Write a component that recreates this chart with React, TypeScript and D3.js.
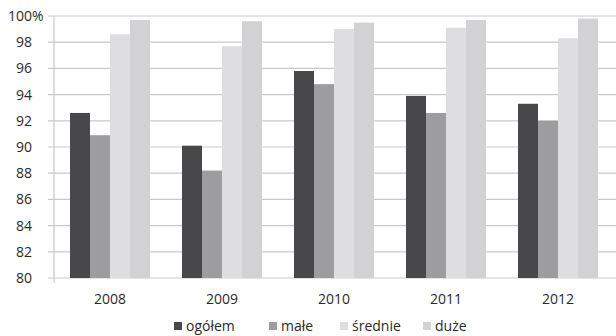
import React, { useRef, useEffect } from 'react';
import * as d3 from 'd3';

const years = ['2008', '2009', '2010', '2011', '2012'];
const seriesNames = ['ogółem', 'małe', 'średnie', 'duże'];
const ogolem = [92.6, 90.1, 95.8, 93.9, 93.3];
const male = [90.9, 88.2, 94.8, 92.6, 92.0];
const srednie = [98.6, 97.7, 99.0, 99.1, 98.3];
const duze = [99.7, 99.6, 99.5, 99.7, 99.8];
const yTicks = [80, 82, 84, 86, 88, 90, 92, 94, 96, 98, 100];

const colors = ['#48484a', '#9d9d9f', '#dedee0', '#d2d2d4'];
const fontFamily = '"Open Sans", "DejaVu Sans", sans-serif';

const App = () => {
  const svgRef = useRef<SVGSVGElement>(null);

  useEffect(() => {
    const width = 616;
    const height = 336;
    const margin = { top: 16, right: 2, bottom: 58, left: 54 };

    const svg = d3.select(svgRef.current);
    svg.selectAll('*').remove();
    svg.attr('width', width).attr('height', height);

    svg.append('rect').attr('width', width).attr('height', height).attr('fill', '#fff');

    const x = d3.scaleBand()
      .domain(years)
      .range([margin.left, width - margin.right])
      .paddingInner(0)
      .paddingOuter(0);

    // 4 bars of ~20px inside each ~112px band
    const x1 = d3.scaleBand()
      .domain(seriesNames)
      .range([0, x.bandwidth()])
      .paddingOuter(0.8)
      .paddingInner(0);

    const y = d3.scaleLinear()
      .domain([80, 100])
      .range([height - margin.bottom, margin.top]);

    // Gridlines
    svg.append('g')
      .selectAll('line')
      .data(yTicks)
      .enter()
      .append('line')
      .attr('x1', margin.left - 6)
      .attr('x2', width)
      .attr('y1', d => y(d))
      .attr('y2', d => y(d))
      .attr('stroke', '#c9c9cb')
      .attr('stroke-width', 1.2);

    // Y axis line
    svg.append('line')
      .attr('x1', margin.left)
      .attr('x2', margin.left)
      .attr('y1', y(100))
      .attr('y2', y(80) + 5)
      .attr('stroke', '#c9c9cb')
      .attr('stroke-width', 1.2);

    // Y labels
    svg.append('g')
      .selectAll('text')
      .data(yTicks)
      .enter()
      .append('text')
      .attr('x', 32)
      .attr('y', d => y(d))
      .attr('dy', '0.35em')
      .attr('text-anchor', 'end')
      .attr('font-family', fontFamily)
      .attr('font-size', 14)
      .attr('fill', '#2a2a2a')
      .text(d => String(d));

    svg.append('text')
      .attr('x', 32)
      .attr('y', y(100))
      .attr('dy', '0.35em')
      .attr('font-family', fontFamily)
      .attr('font-size', 14)
      .attr('fill', '#2a2a2a')
      .text('%');

    // Bars
    const allSeries = [ogolem, male, srednie, duze];
    const groups = svg.append('g')
      .selectAll('g')
      .data(years)
      .enter()
      .append('g')
      .attr('transform', d => `translate(${x(d)},0)`);

    groups.selectAll('rect')
      .data((d, i) => seriesNames.map((s, j) => ({ s, v: allSeries[j][i], j })))
      .enter()
      .append('rect')
      .attr('x', d => x1(d.s)!)
      .attr('width', x1.bandwidth())
      .attr('y', d => y(d.v))
      .attr('height', d => y(80) - y(d.v))
      .attr('fill', d => colors[d.j]);

    // X labels
    svg.append('g')
      .selectAll('text')
      .data(years)
      .enter()
      .append('text')
      .attr('x', d => x(d)! + x.bandwidth() / 2)
      .attr('y', 299)
      .attr('dy', '0.35em')
      .attr('text-anchor', 'middle')
      .attr('font-family', fontFamily)
      .attr('font-size', 14)
      .attr('fill', '#2a2a2a')
      .text(d => d);

    // Legend
    const legendX = [174, 269, 340, 423];
    const legend = svg.append('g')
      .selectAll('g')
      .data(seriesNames)
      .enter()
      .append('g')
      .attr('transform', (d, i) => `translate(${legendX[i]},326)`);

    legend.append('rect')
      .attr('x', 0)
      .attr('y', -4)
      .attr('width', 8)
      .attr('height', 8)
      .attr('fill', (d, i) => colors[i]);

    legend.append('text')
      .attr('x', 12)
      .attr('y', 0)
      .attr('dy', '0.35em')
      .attr('font-family', fontFamily)
      .attr('font-size', 14)
      .attr('fill', '#2a2a2a')
      .text(d => d);
  }, []);

  return (
    <div style={{ position: 'absolute', left: 0, top: 0 }}>
      <svg ref={svgRef} style={{ display: 'block' }}></svg>
    </div>
  );
};

export default App;
